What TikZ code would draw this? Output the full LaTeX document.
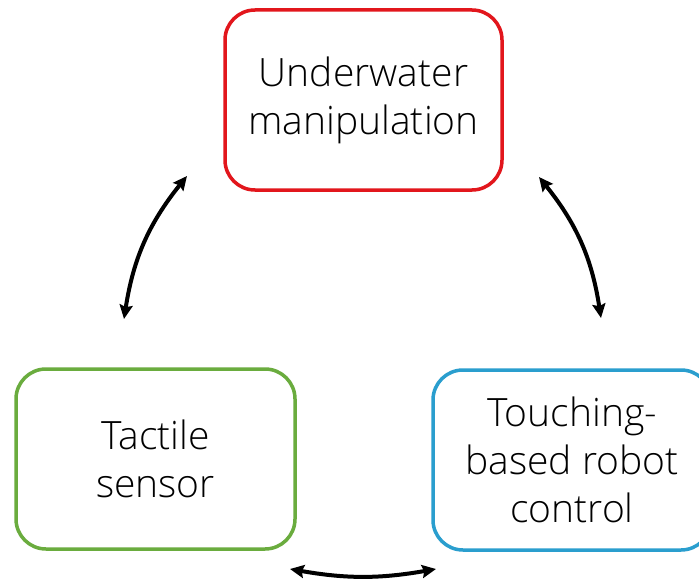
\documentclass[tikz,border=0pt]{standalone}
\usepackage{fontspec}
\setmainfont{Open Sans}[UprightFont=* Light]
\usetikzlibrary{arrows.meta}
\definecolor{boxred}{RGB}{226,22,28}
\definecolor{boxgreen}{RGB}{106,172,62}
\definecolor{boxblue}{RGB}{42,158,206}
\tikzset{
  topic/.style={draw, line width=3.5pt, rounded corners=30pt, align=center,
    minimum height=180pt, inner sep=0pt,
    font=\fontsize{39}{48}\selectfont},
  link/.style={line width=4pt, {Stealth[length=14pt,width=13pt,inset=2pt]}-{Stealth[length=14pt,width=13pt,inset=2pt]}}
}
\begin{document}
\begin{tikzpicture}[x=1pt,y=-1pt]
  \clip (0,0) rectangle (699,583);
  \fill[white] (0,0) rectangle (699,583);

  \node[topic, draw=boxred, minimum width=277pt] (um) at (363.5,100)
    {Underwater\\manipulation};
  \node[topic, draw=boxgreen, minimum width=279pt] (ts) at (155.5,459)
    {Tactile\\sensor};
  \node[topic, draw=boxblue, minimum width=278pt] (rc) at (572,460)
    {Touching-\\based robot\\control};

  % free ends of the double-headed arcs between the topics
  \coordinate (l1) at (187,176);
  \coordinate (l2) at (124,319);
  \coordinate (r1) at (539,177);
  \coordinate (r2) at (601,318);
  \coordinate (b1) at (290,569);
  \coordinate (b2) at (436,569);

  \draw[link] (l1) to[bend right=15] (l2);
  \draw[link] (r1) to[bend left=15] (r2);
  \draw[link] (b1) to[bend right=10] (b2);
\end{tikzpicture}
\end{document}
